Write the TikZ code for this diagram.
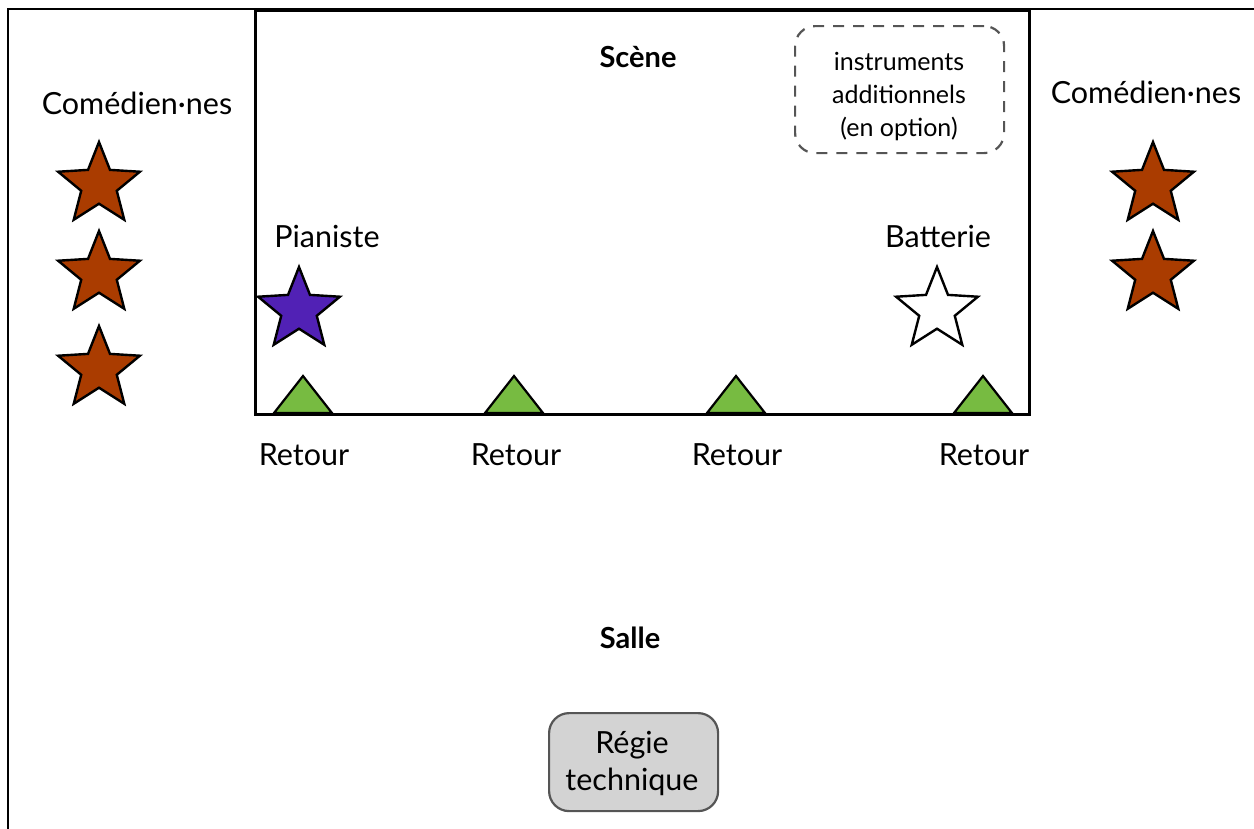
\documentclass[tikz,border=0pt]{standalone}
\usepackage{fontspec}
\setmainfont{Lato}
\usetikzlibrary{shapes.geometric,calc}
\definecolor{brownstar}{HTML}{AA3C00}
\definecolor{purplestar}{HTML}{5121B5}
\definecolor{greentri}{HTML}{77BB41}
\definecolor{regiefill}{HTML}{D3D3D3}
\definecolor{edgegray}{HTML}{555555}
\tikzset{
  starshape/.style={star, star points=5, star point ratio=2.3, minimum size=86pt, inner sep=0pt, draw=black, line width=2.4pt},
  actor/.style={starshape, fill=brownstar},
  frame/.style={line width=2.6pt, draw=black},
  lbl/.style={font=\fontsize{30.5}{36}\selectfont, inner sep=0pt},
  small/.style={font=\fontsize{25}{33}\selectfont, align=center, inner sep=0pt},
  title/.style={font=\fontsize{29}{34}\selectfont\bfseries, inner sep=0pt},
  retour/.pic={\draw[line width=2.2pt, fill=greentri, line join=miter] (-29,0) -- (0,-37) -- (29,0) -- cycle;}
}
\begin{document}
\begin{tikzpicture}[x=1pt,y=-1pt]
\useasboundingbox (0,0) rectangle (1254,828);
\clip (0,0) rectangle (1254,828);
% outer hall frame
\draw[frame] (8,840) -- (8,9) -- (1270,9);
% stage
\node[frame, draw, minimum width=774pt, minimum height=404pt, inner sep=0pt, anchor=north west] (scene) at (254,9) {};
\node[title] (scenelbl) at (638,57) {Scène};
\node[title] (salle) at (630,638) {Salle};
% optional instruments
\node[draw=edgegray, dashed, dash pattern=on 11pt off 9pt, line width=2.2pt, rounded corners=20pt, minimum width=209pt, minimum height=127pt, anchor=north west] (opt) at (794,25) {};
\node[small] (opttxt) at (899,97) {instruments\\additionnels\\(en option)};
% actors
\node[lbl] (comL) at (137,103) {Comédien·nes};
\node[lbl] (comR) at (1146,92) {Comédien·nes};
\node[actor] (a1) at (99,185) {};
\node[actor] (a2) at (99,274) {};
\node[actor] (a3) at (99,369) {};
\node[actor] (a4) at (1153,185) {};
\node[actor] (a5) at (1153,274) {};
% musicians
\node[lbl] (pianlbl) at (327,236) {Pianiste};
\node[starshape, fill=purplestar] (pian) at (299,310) {};
\node[lbl] (battlbl) at (938,236) {Batterie};
\node[starshape, fill=white] (batt) at (937,310) {};
% monitors
\coordinate (m1) at (303,413);
\coordinate (m2) at (514,413);
\coordinate (m3) at (736,413);
\coordinate (m4) at (983,413);
\foreach \m in {m1,m2,m3,m4} {\pic at (\m) {retour};}
\node[lbl] (r1) at (304,455) {Retour};
\node[lbl] (r2) at (516,455) {Retour};
\node[lbl] (r3) at (737,455) {Retour};
\node[lbl] (r4) at (984,455) {Retour};
% control desk
\node[draw=edgegray, fill=regiefill, line width=2.2pt, rounded corners=20pt, minimum width=169pt, minimum height=98pt, anchor=north west] (regie) at (548,712) {};
\node[lbl, align=center, font=\fontsize{30.5}{37}\selectfont] (regietxt) at (632,763) {Régie\\technique};
\end{tikzpicture}
\end{document}
